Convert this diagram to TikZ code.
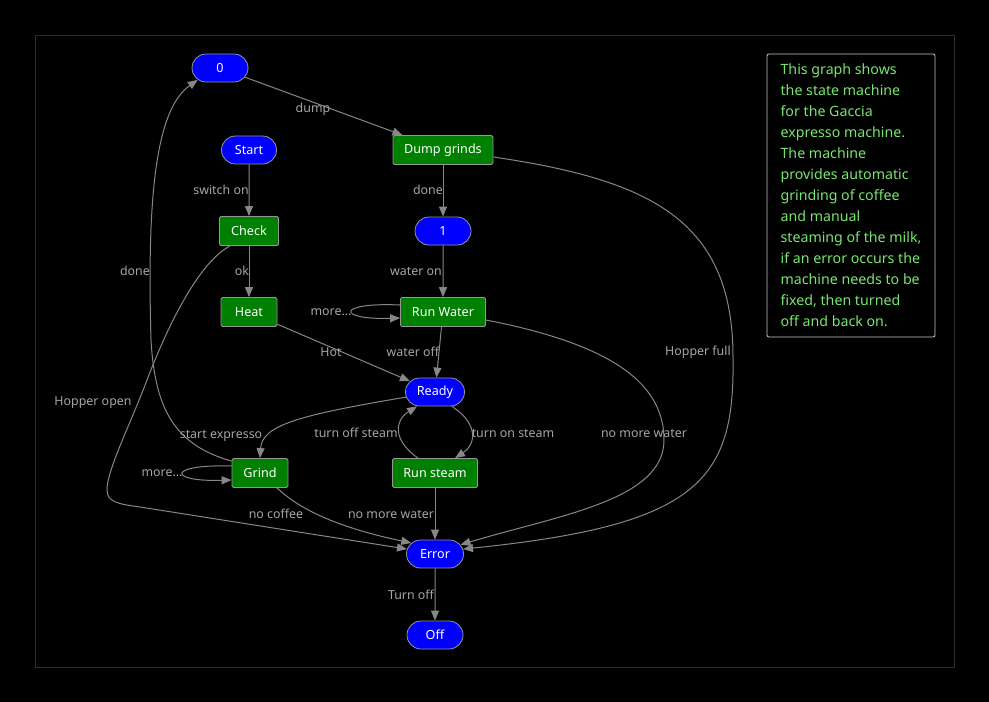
\documentclass[tikz,border=0pt]{standalone}
\usepackage{fontspec}
\setmainfont{Noto Sans}
\usetikzlibrary{arrows.meta,shapes.misc}
\definecolor{edgegray}{RGB}{135,135,135}
\definecolor{labgray}{RGB}{165,165,165}
\definecolor{bordgray}{RGB}{150,150,150}
\definecolor{framegray}{RGB}{45,45,45}
\definecolor{stateblue}{RGB}{0,0,255}
\definecolor{actgreen}{RGB}{0,128,0}
\definecolor{notegreen}{RGB}{120,230,110}
\definecolor{notebord}{RGB}{200,200,200}
\tikzset{
  state/.style={rounded rectangle, fill=stateblue, draw=bordgray, line width=0.8pt, text=white,
    minimum width=56pt, minimum height=28pt, inner sep=0pt, font=\fontsize{12.6}{14}\selectfont},
  act/.style={rectangle, rounded corners=1.5pt, fill=actgreen, draw=bordgray, line width=0.8pt, text=white,
    minimum height=29pt, inner sep=0pt, font=\fontsize{12.6}{14}\selectfont},
  elab/.style={text=labgray, font=\fontsize{12.4}{14}\selectfont, inner sep=0pt},
  edge/.style={draw=edgegray, line width=1pt, -{Triangle[length=10pt,width=8pt]}},
  note/.style={draw=notebord, line width=0.8pt, rounded corners=2pt, text=notegreen, align=left,
    minimum width=168pt, minimum height=283pt, inner sep=0pt,
    font=\fontsize{14.2}{21}\selectfont}
}
\begin{document}
\begin{tikzpicture}[x=1pt,y=-1pt]
\fill[black] (0,0) rectangle (989,702);
\useasboundingbox (0,0) rectangle (989,702);
\draw[framegray, line width=1pt] (35,35) rectangle (954,667);

% nodes
\node[state] (n0) at (220,68) {0};
\node[state, minimum width=55pt] (start) at (249,150) {Start};
\node[act, minimum width=100pt] (dump) at (443,150) {Dump grinds};
\node[act, minimum width=59pt] (chk) at (249,231) {Check};
\node[state] (n1) at (443,231) {1};
\node[act, minimum width=56pt] (heat) at (249,312) {Heat};
\node[act, minimum width=85pt] (rw) at (443,312) {Run Water};
\node[state, minimum width=59pt] (ready) at (435,392) {Ready};
\node[act, minimum width=56pt] (grind) at (260,473) {Grind};
\node[act, minimum width=85pt] (rs) at (435,473) {Run steam};
\node[state, minimum width=57pt] (err) at (435,554) {Error};
\node[state] (off) at (435,635) {Off};

\node[note] (txt) at (851,195.5) {This graph shows\\the state machine\\for the Gaccia\\expresso machine.\\The machine\\provides automatic\\grinding of coffee\\and manual\\steaming of the milk,\\if an error occurs the\\machine needs to be\\fixed, then turned\\off and back on.};

% edges
\draw[edge] (n0) -- (dump);
\draw[edge] (start) -- (chk);
\draw[edge] (dump) -- (n1);
\draw[edge] (chk) -- (heat);
\draw[edge] (n1) -- (rw);
\draw[edge] ([yshift=7pt]rw.west) .. controls (336,302) and (336,320) .. ([yshift=-6pt]rw.west);
\draw[edge] (heat) -- (ready);
\draw[edge] (rw) -- (ready);
\draw[edge] (ready.190) .. controls (300,415) and (262,425) .. (grind.north);
\draw[edge] ([yshift=-3pt]grind.north west) .. controls (175,445) and (155,410) .. (151,340)
   .. controls (147,200) and (155,110) .. (n0.208);
\draw[edge] ([yshift=7pt]grind.west) .. controls (167,464) and (167,482) .. ([yshift=-7pt]grind.west);
\draw[edge] ([xshift=-19pt]chk.south) .. controls (200,262) and (170,320) .. (147,380)
   .. controls (130,425) and (107,470) .. (107,490) .. controls (107,502) and (118,504) .. (140,507)
   -- (err.170);
\draw[edge] ([xshift=17pt]grind.south) .. controls (300,510) and (340,528) .. (err.155);
\draw[edge] (rs) -- (err);
\draw[edge] ([xshift=17pt]ready.south) .. controls (480,425) and (475,445) .. ([xshift=20pt]rs.north);
\draw[edge] ([xshift=-17pt]rs.north) .. controls (392,440) and (395,420) .. ([xshift=-18pt]ready.south);
\draw[edge] ([yshift=-8pt]rw.east) .. controls (615,345) and (664,385) .. (664,440)
   .. controls (664,500) and (560,515) .. (err.20);
\draw[edge] ([yshift=-7pt]dump.east) .. controls (650,180) and (733,220) .. (733,357)
   .. controls (735,480) and (700,525) .. (err.10);
\draw[edge] (err) -- (off);

% labels
\node[elab] (l1) at (313,109) {dump};
\node[elab] (l2) at (221,190) {switch on};
\node[elab] (l3) at (428,190) {done};
\node[elab] (l4) at (242,271) {ok};
\node[elab] (l5) at (416,271) {water on};
\node[elab] (l6) at (135,271) {done};
\node[elab] (l7) at (331,312) {more...};
\node[elab] (l8) at (331,352) {Hot};
\node[elab] (l9) at (413,352) {water off};
\node[elab] (l10) at (698,352) {Hopper full};
\node[elab] (l11) at (93,403) {Hopper open};
\node[elab] (l12) at (221,436) {start expresso};
\node[elab] (l13) at (356,433) {turn off steam};
\node[elab] (l14) at (513,433) {turn on steam};
\node[elab] (l15) at (644,433) {no more water};
\node[elab] (l16) at (162,473) {more...};
\node[elab] (l17) at (276,514) {no coffee};
\node[elab] (l18) at (391,514) {no more water};
\node[elab] (l19) at (411,595) {Turn off};
\end{tikzpicture}
\end{document}
